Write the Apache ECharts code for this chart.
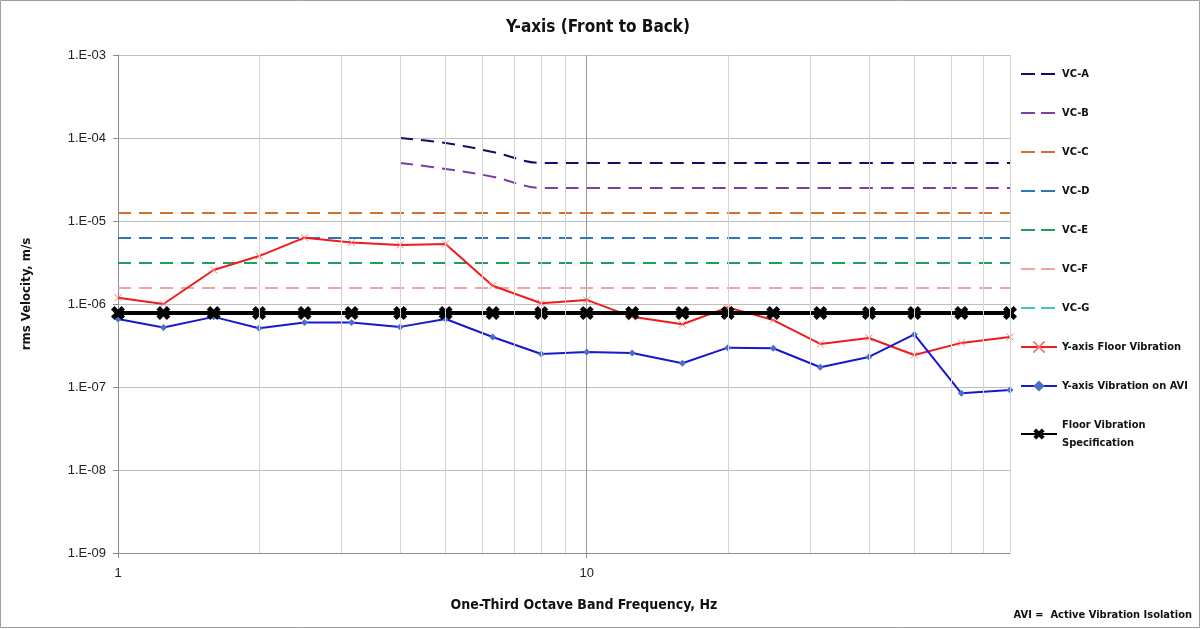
<!DOCTYPE html>
<html><head><meta charset="utf-8">
<script src="https://cdn.jsdelivr.net/npm/echarts@6/dist/echarts.min.js"></script>
<style>html,body{margin:0;padding:0;background:#fff}#c{width:1200px;height:629px}</style>
</head><body><div id="c"></div>
<script>
// ---- data ----
const freqs = [1,1.25,1.6,2,2.5,3.15,4,5,6.3,8,10,12.5,16,20,25,31.5,40,50,63,80];
const vcABFreqs = [4,5,6.3,8,10,12.5,16,20,25,31.5,40,50,63,80];
const vcA = [1e-4,8.7e-5,6.8e-5,5e-5,5e-5,5e-5,5e-5,5e-5,5e-5,5e-5,5e-5,5e-5,5e-5,5e-5];
const vcB = [5e-5,4.24e-5,3.42e-5,2.5e-5,2.5e-5,2.5e-5,2.5e-5,2.5e-5,2.5e-5,2.5e-5,2.5e-5,2.5e-5,2.5e-5,2.5e-5];
const flatFreqs = [1,80];
const vcC = [1.25e-5,1.25e-5];
const vcD = [6.25e-6,6.25e-6];
const vcE = [3.12e-6,3.12e-6];
const vcF = [1.56e-6,1.56e-6];
const vcG = [7.8e-7,7.8e-7];
const floorVib = [1.19e-6,1.0e-6,2.57e-6,3.78e-6,6.3e-6,5.5e-6,5.15e-6,5.3e-6,1.66e-6,1.02e-6,1.12e-6,7.0e-7,5.7e-7,9.1e-7,6.4e-7,3.3e-7,3.9e-7,2.43e-7,3.4e-7,4.0e-7];
const aviVib = [6.6e-7,5.2e-7,7.0e-7,5.1e-7,6.0e-7,6.0e-7,5.3e-7,6.6e-7,4.0e-7,2.5e-7,2.64e-7,2.57e-7,1.93e-7,2.98e-7,2.93e-7,1.73e-7,2.3e-7,4.3e-7,8.4e-8,9.2e-8];
const floorSpec = [7.8e-7,7.8e-7,7.8e-7,7.8e-7,7.8e-7,7.8e-7,7.8e-7,7.8e-7,7.8e-7,7.8e-7,7.8e-7,7.8e-7,7.8e-7,7.8e-7,7.8e-7,7.8e-7,7.8e-7,7.8e-7,7.8e-7,7.8e-7];
const minorGridX = [2,3,4,5,6,7,8,9,20,30,40,50,60,70,80];
const vcNames = ['VC-A','VC-B','VC-C','VC-D','VC-E','VC-F','VC-G'];
const markedNames = ['Y-axis Floor Vibration','Y-axis Vibration on AVI','Floor Vibration\nSpecification'];

const NARROW = "'Liberation Sans Narrow','DejaVu Sans Condensed','Arial Narrow',sans-serif";
const pair = (xs, ys) => xs.map((x, i) => [x, ys[i]]);

function dashed(name, xs, ys, color, smooth) {
  return {
    name, type: 'line', data: pair(xs, ys), showSymbol: false, symbol: 'none',
    smooth: smooth ? 0.35 : false, silent: true,
    lineStyle: { color, width: 2, type: [13, 8] }, itemStyle: { color }
  };
}

const xSym = 'path://M0,0L10,10M10,0L0,10';
const boldX = 'path://M0,3.5L3.5,0L7,3.5L10.5,0L14,3.5L10.5,7L14,10.5L10.5,14L7,10.5L3.5,14L0,10.5L3.5,7Z';
const dashIcon = 'path://M0,0M36,14M0,6H14V8H0ZM20,6H34V8H20Z';

const legendData = vcNames.map(n => ({ name: n, icon: dashIcon })).concat(markedNames.map(n => ({ name: n })));

const chart = echarts.init(document.getElementById('c'), null, { renderer: 'canvas' });
chart.setOption({
  animation: false,
  backgroundColor: '#fff',
  textStyle: { fontFamily: NARROW },
  grid: { left: 118, right: 190, top: 55, bottom: 76, containLabel: false },
  xAxis: {
    type: 'log', logBase: 10, min: 1, max: 80,
    axisLine: { show: true, lineStyle: { color: '#8c8c8c', width: 1 } },
    axisTick: { show: true, length: 5, lineStyle: { color: '#8c8c8c' } },
    axisLabel: { color: '#222', fontSize: 13, fontFamily: "'Liberation Sans',Arial,sans-serif", margin: 14, showMaxLabel: false },
    splitLine: { show: true, lineStyle: { color: '#9a9a9a', width: 1 } }
  },
  yAxis: {
    type: 'log', logBase: 10, min: 1e-9, max: 1e-3, splitNumber: 6,
    axisLine: { show: true, lineStyle: { color: '#8c8c8c', width: 1 } },
    axisTick: { show: true, length: 5, lineStyle: { color: '#8c8c8c' } },
    axisLabel: {
      color: '#222', fontSize: 13, fontFamily: "'Liberation Sans',Arial,sans-serif", margin: 12,
      formatter: v => { const e = Math.round(Math.log10(v)); const a = Math.abs(e); return '1.E' + (e < 0 ? '-' : '+') + (a < 10 ? '0' : '') + a; }
    },
    splitLine: { show: true, lineStyle: { color: '#bfbfbf', width: 1 } }
  },
  legend: {
    data: legendData, orient: 'vertical', left: 1015, top: 60,
    itemWidth: 36, itemHeight: 14, itemGap: 21,
    textStyle: { fontFamily: NARROW, fontWeight: 'bold', fontSize: 11, color: '#111', lineHeight: 18 },
    selectedMode: false
  },
  title: { text: 'Y-axis (Front to Back)', left: 593, top: 14, textAlign: 'center',
    textStyle: { fontFamily: NARROW, fontWeight: 'bold', fontSize: 17, color: '#111' } },
  graphic: [
    { type: 'rect', shape: { x: 0.5, y: 0.5, width: 1199, height: 627 }, style: { fill: 'none', stroke: '#a0a0a0', lineWidth: 1 }, silent: true, z: 100 },
    { type: 'text', x: 584, y: 605, style: { text: 'One-Third Octave Band Frequency, Hz', fill: '#111', font: "bold 14px " + NARROW, textAlign: 'center', textVerticalAlign: 'middle' } },
    { type: 'text', x: 27, y: 294, rotation: Math.PI / 2, style: { text: 'rms Velocity, m/s', fill: '#111', font: "bold 13px " + NARROW, textAlign: 'center', textVerticalAlign: 'middle' } },
    { type: 'text', x: 1192, y: 615, style: { text: 'AVI =  Active Vibration Isolation', fill: '#111', font: "bold 11px " + NARROW, textAlign: 'right', textVerticalAlign: 'middle' } }
  ],
  series: [
    { name: 'minor-grid', type: 'line', data: [], silent: true,
      markLine: { silent: true, symbol: 'none', label: { show: false },
        lineStyle: { color: '#d4d4d4', width: 1, type: 'solid' },
        data: minorGridX.map(v => ({ xAxis: v })) } },
    dashed('VC-A', vcABFreqs, vcA, '#10106a', true),
    dashed('VC-B', vcABFreqs, vcB, '#7a3ea6', true),
    dashed('VC-C', flatFreqs, vcC, '#d2722e', false),
    dashed('VC-D', flatFreqs, vcD, '#2a78bd', false),
    dashed('VC-E', flatFreqs, vcE, '#1f9e5e', false),
    dashed('VC-F', flatFreqs, vcF, '#f4a3a3', false),
    dashed('VC-G', flatFreqs, vcG, '#3ec4c4', false),
    { name: 'Y-axis Floor Vibration', type: 'line', data: pair(freqs, floorVib),
      symbol: xSym, symbolSize: 7, showSymbol: true,
      lineStyle: { color: '#ee1c1c', width: 2 },
      itemStyle: { color: 'none', borderColor: '#ff7a7a', borderWidth: 1 } },
    { name: 'Y-axis Vibration on AVI', type: 'line', data: pair(freqs, aviVib),
      symbol: 'diamond', symbolSize: 7,
      lineStyle: { color: '#1818cc', width: 2 },
      itemStyle: { color: '#4a6fc8' } },
    { name: 'Floor Vibration\nSpecification', type: 'line', data: pair(freqs, floorSpec),
      symbol: boldX, symbolSize: 14,
      lineStyle: { color: '#000', width: 4 },
      itemStyle: { color: '#000' } }
  ]
});
</script></body></html>
